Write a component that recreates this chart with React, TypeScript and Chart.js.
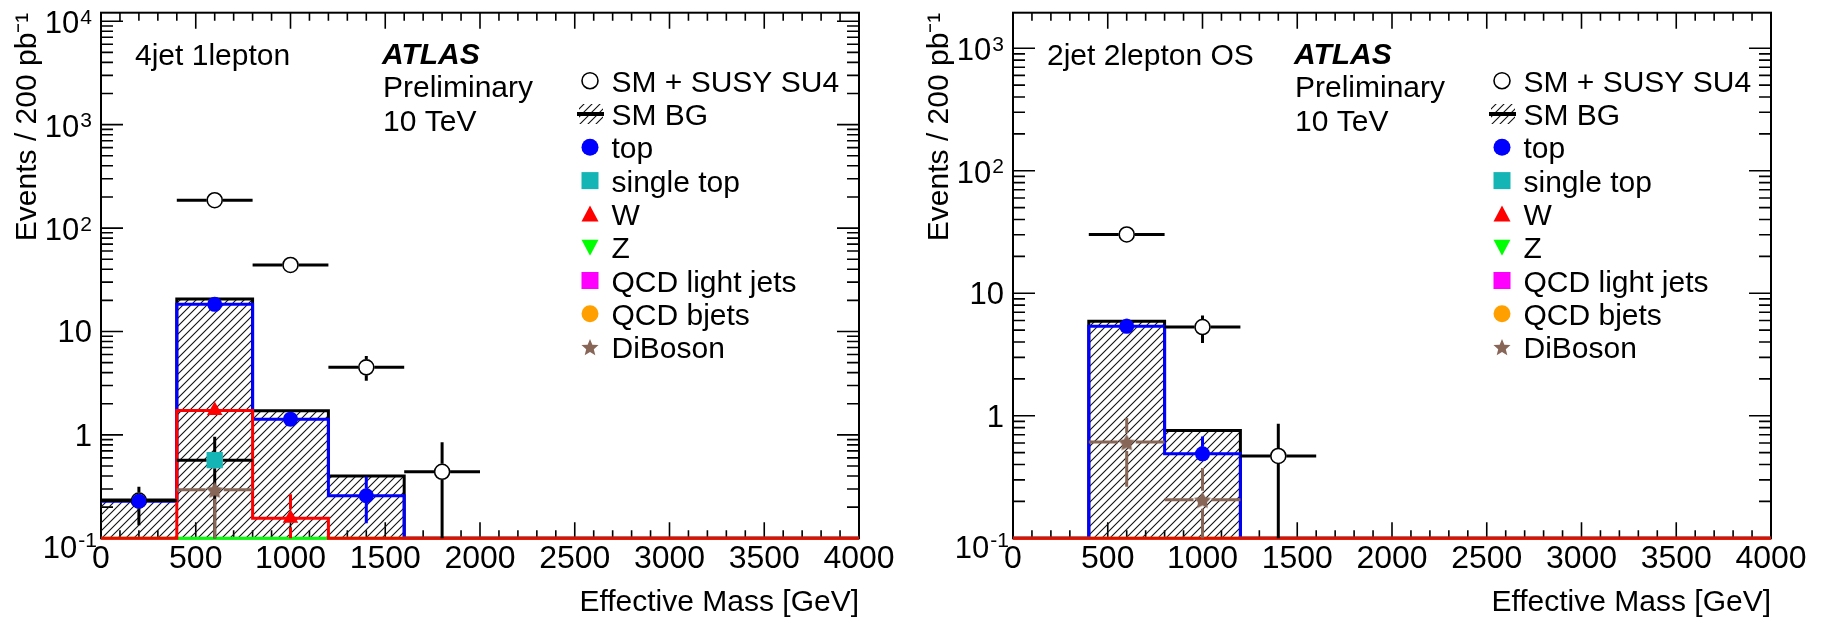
import React, { useEffect, useRef } from 'react';
import { Chart, registerables } from 'chart.js';

Chart.register(...registerables);

const FONT = '"Liberation Sans", Arial, Helvetica, sans-serif';

// ---------- shared axes ----------
const binEdges = [0, 400, 800, 1200, 1600, 2000, 2400, 2800, 3200, 3600, 4000];
const binHalfWidth = 200;
const xTickValues = [0, 500, 1000, 1500, 2000, 2500, 3000, 3500, 4000];
const xTickLabels = ['0', '500', '1000', '1500', '2000', '2500', '3000', '3500', '4000'];
const xTitle = 'Effective Mass [GeV]';
const yTitle = 'Events / 200 pb⁻¹';

const yTicks4j = [0.1, 1, 10, 100, 1000, 10000];
const yTickBase4j = ['10', '1', '10', '10', '10', '10'];
const yTickExp4j = ['-1', '', '', '2', '3', '4'];
const yTicks2j = [0.1, 1, 10, 100, 1000];
const yTickBase2j = ['10', '1', '10', '10', '10'];
const yTickExp2j = ['-1', '', '', '2', '3'];

// ---------- 4jet 1lepton ----------
const smBg4j = [0.235, 20.6, 1.71, 0.4, 0, 0, 0, 0, 0, 0];
const top4j = [0.228, 18.3, 1.42, 0.258, 0, 0, 0, 0, 0, 0];
const w4j = [0, 1.72, 0.156, 0, 0, 0, 0, 0, 0, 0];
const z4j = [0, 0, 0, 0, 0, 0, 0, 0, 0, 0];
const susyX4j = [200, 600, 1000, 1400, 1800];
const susyY4j = [0.232, 186, 44, 4.5, 0.44];
const susyLo4j = [0.134, 176, 41.5, 3.34, 0];
const susyHi4j = [0.316, 196, 46.5, 5.8, 0.85];
const topX4j = [200, 600, 1000, 1400];
const topY4j = [0.228, 18.3, 1.42, 0.258];
const topLo4j = [0.205, 17.3, 1.33, 0.14];
const topHi4j = [0.255, 19.8, 1.52, 0.394];
const singleTopX4j = [600];
const singleTopY4j = [0.57];
const singleTopLo4j = [0];
const singleTopHi4j = [0.96];
const wX4j = [600, 1000];
const wY4j = [1.72, 0.156];
const wLo4j = [1.42, 0];
const wHi4j = [2.12, 0.266];
const diBosonX4j = [600];
const diBosonY4j = [0.295];
const diBosonLo4j = [0];
const diBosonHi4j = [0.33];

// ---------- 2jet 2lepton OS ----------
const smBg2j = [0, 5.9, 0.76, 0, 0, 0, 0, 0, 0, 0];
const top2j = [0, 5.37, 0.489, 0, 0, 0, 0, 0, 0, 0];
const w2j = [0, 0, 0, 0, 0, 0, 0, 0, 0, 0];
const z2j = [0, 0, 0, 0, 0, 0, 0, 0, 0, 0];
const susyX2j = [600, 1000, 1400];
const susyY2j = [30.2, 5.3, 0.47];
const susyLo2j = [28.5, 3.93, 0];
const susyHi2j = [32, 6.57, 0.86];
const topX2j = [600, 1000];
const topY2j = [5.37, 0.489];
const topLo2j = [5.0, 0.44];
const topHi2j = [6.2, 0.678];
const diBosonX2j = [600, 1000];
const diBosonY2j = [0.61, 0.206];
const diBosonLo2j = [0.264, 0];
const diBosonHi2j = [0.958, 0.375];

// ---------- legend ----------
const legendLabels = ['SM + SUSY SU4', 'SM BG', 'top', 'single top', 'W', 'Z', 'QCD light jets', 'QCD bjets', 'DiBoson'];
const legendMarkers = ['openCircle', 'hatch', 'circle', 'square', 'triUp', 'triDown', 'square', 'circle', 'star'];
const legendColors = ['#000000', '#000000', '#0000ff', '#15b5b5', '#ff0000', '#00ff00', '#ff00ff', '#ffa000', '#876657'];

const C_TOP = '#0000ff';
const C_STOP = '#15b5b5';
const C_W = '#ff0000';
const C_Z = '#00ff00';
const C_DIB = '#876657';

function makeHatch(): CanvasPattern | string {
  const c = document.createElement('canvas');
  c.width = 8;
  c.height = 8;
  const g = c.getContext('2d');
  if (!g) return 'rgba(0,0,0,0.2)';
  g.strokeStyle = '#111';
  g.lineWidth = 1.1;
  g.beginPath();
  g.moveTo(0, 8); g.lineTo(8, 0);
  g.moveTo(-1, 1); g.lineTo(1, -1);
  g.moveTo(7, 9); g.lineTo(9, 7);
  g.stroke();
  const p = g.createPattern(c, 'repeat');
  return p || 'rgba(0,0,0,0.2)';
}

function starPath(ctx: CanvasRenderingContext2D, x: number, y: number, ro: number, ri: number) {
  ctx.beginPath();
  for (let k = 0; k < 10; k++) {
    const r = k % 2 === 0 ? ro : ri;
    const a = -Math.PI / 2 + (k * Math.PI) / 5;
    const px = x + r * Math.cos(a);
    const py = y + r * Math.sin(a);
    if (k === 0) ctx.moveTo(px, py); else ctx.lineTo(px, py);
  }
  ctx.closePath();
}

function makeStar(color: string, size: number): HTMLCanvasElement {
  const c = document.createElement('canvas');
  c.width = size;
  c.height = size;
  const g = c.getContext('2d');
  if (g) {
    g.fillStyle = color;
    starPath(g, size / 2, size / 2 + 1, size / 2 - 0.5, size / 4.0);
    g.fill();
  }
  return c;
}

function drawMarker(ctx: CanvasRenderingContext2D, kind: string, x: number, y: number, color: string, hatch: any) {
  ctx.save();
  ctx.fillStyle = color;
  ctx.strokeStyle = color;
  if (kind === 'openCircle') {
    ctx.beginPath();
    ctx.arc(x, y, 8, 0, Math.PI * 2);
    ctx.fillStyle = '#fff';
    ctx.fill();
    ctx.lineWidth = 1.6;
    ctx.strokeStyle = '#000';
    ctx.stroke();
  } else if (kind === 'circle') {
    ctx.beginPath();
    ctx.arc(x, y, 8.5, 0, Math.PI * 2);
    ctx.fill();
  } else if (kind === 'square') {
    ctx.fillRect(x - 8.5, y - 8.5, 17, 17);
  } else if (kind === 'triUp') {
    ctx.beginPath();
    ctx.moveTo(x, y - 8.5); ctx.lineTo(x + 8.5, y + 7.5); ctx.lineTo(x - 8.5, y + 7.5);
    ctx.closePath();
    ctx.fill();
  } else if (kind === 'triDown') {
    ctx.beginPath();
    ctx.moveTo(x, y + 8.5); ctx.lineTo(x + 8.5, y - 7.5); ctx.lineTo(x - 8.5, y - 7.5);
    ctx.closePath();
    ctx.fill();
  } else if (kind === 'star') {
    starPath(ctx, x, y + 0.8, 9, 4);
    ctx.fill();
  } else if (kind === 'hatch') {
    ctx.fillStyle = hatch;
    ctx.fillRect(x - 11, y - 10, 24, 20);
    ctx.fillStyle = '#000';
    ctx.fillRect(x - 13, y - 2, 27, 4);
  }
  ctx.restore();
}

// ---------- plugins ----------
const framePlugin = {
  id: 'rootFrame',
  beforeDatasetsDraw(chart: any) {
    const { ctx, chartArea: a, scales } = chart;
    const xs = scales.x;
    const ys = scales.y;
    ctx.save();
    ctx.strokeStyle = '#000';
    ctx.lineWidth = 2;
    ctx.strokeRect(a.left, a.top, a.right - a.left, a.bottom - a.top);
    ctx.lineWidth = 1.6;
    ctx.beginPath();
    for (let v = 0; v <= 4000; v += 100) {
      const px = xs.getPixelForValue(v);
      const len = v % 500 === 0 ? 16 : 8;
      ctx.moveTo(px, a.bottom); ctx.lineTo(px, a.bottom - len);
      ctx.moveTo(px, a.top); ctx.lineTo(px, a.top + len);
    }
    for (let d = -1; d <= 4; d++) {
      for (let k = 1; k <= 9; k++) {
        const v = k * Math.pow(10, d);
        if (v < ys.min * 0.999 || v > ys.max) continue;
        const py = ys.getPixelForValue(v);
        const len = k === 1 ? 22 : 12;
        ctx.moveTo(a.left, py); ctx.lineTo(a.left + len, py);
        ctx.moveTo(a.right, py); ctx.lineTo(a.right - len, py);
      }
    }
    ctx.stroke();
    ctx.restore();
  },
};

// y tick labels with real superscripts, placed at the log scale's tick pixels
const yLabelPlugin = {
  id: 'yLabels',
  afterDraw(chart: any) {
    const o = chart.options.plugins.yLabels;
    if (!o) return;
    const { ctx, chartArea: a, scales } = chart;
    const ys = scales.y;
    ctx.save();
    ctx.fillStyle = '#000';
    ctx.textAlign = 'left';
    ctx.textBaseline = 'alphabetic';
    ys.ticks.forEach((t: any) => {
      const i = o.values.findIndex((v: number) => Math.abs(v - t.value) / v < 1e-6);
      if (i < 0) return;
      const base = o.base[i];
      const exp = o.exp[i];
      const py = ys.getPixelForValue(t.value);
      const low = t.value < 1;
      const right = a.left - (low ? 4 : 9);
      ctx.font = `31px ${FONT}`;
      const wb = ctx.measureText(base).width;
      let we = 0;
      if (exp) {
        ctx.font = `21px ${FONT}`;
        we = ctx.measureText(exp).width + 1;
      }
      const x0 = right - wb - we;
      const baseline = exp ? (low ? py + 20 : py + 12) : py + 11;
      ctx.font = `31px ${FONT}`;
      ctx.fillText(base, x0, baseline);
      if (exp) {
        ctx.font = `21px ${FONT}`;
        ctx.fillText(exp, x0 + wb + 1, baseline - (low ? 11 : 9.5));
      }
    });
    ctx.restore();
  },
};

const errorBarPlugin = {
  id: 'errorBars',
  beforeDatasetDraw(chart: any, args: any) {
    const ds = chart.data.datasets[args.index];
    const eb = ds && ds.errorBars;
    if (!eb) return;
    const { ctx, chartArea: a, scales } = chart;
    const xs = scales.x;
    const ys = scales.y;
    ctx.save();
    ctx.beginPath();
    ctx.rect(a.left, a.top, a.right - a.left, a.bottom - a.top);
    ctx.clip();
    ctx.strokeStyle = eb.color;
    ctx.lineWidth = eb.width;
    const seg = (x1: number, y1: number, x2: number, y2: number) => {
      ctx.beginPath(); ctx.moveTo(x1, y1); ctx.lineTo(x2, y2); ctx.stroke();
    };
    eb.x.forEach((xv: number, i: number) => {
      const px = xs.getPixelForValue(xv);
      const py = ys.getPixelForValue(Math.max(eb.y[i], ys.min));
      const gap = eb.gap;
      if (eb.xErr) {
        const xl = xs.getPixelForValue(xv - eb.xErr);
        const xr = xs.getPixelForValue(xv + eb.xErr);
        if (px - gap > xl) seg(xl, py, px - gap, py);
        if (xr > px + gap) seg(px + gap, py, xr, py);
      }
      const pHi = ys.getPixelForValue(eb.hi[i]);
      const pLo = eb.lo[i] > 0 ? ys.getPixelForValue(eb.lo[i]) : a.bottom + 4;
      if (pHi < py - gap) seg(px, py - gap, px, pHi);
      if (pLo > py + gap) seg(px, py + gap, px, pLo);
    });
    ctx.restore();
  },
};

const textPlugin = {
  id: 'rootText',
  afterDraw(chart: any) {
    const o = chart.options.plugins.rootText;
    if (!o) return;
    const ctx = chart.ctx;
    ctx.save();
    ctx.fillStyle = '#000';
    ctx.textBaseline = 'alphabetic';
    ctx.textAlign = 'left';
    ctx.font = `30px ${FONT}`;
    ctx.fillText(o.region, o.regionX, 64.5);
    ctx.font = `italic bold 30px ${FONT}`;
    ctx.fillText('ATLAS', o.atlasX, 64);
    ctx.font = `30px ${FONT}`;
    ctx.fillText('Preliminary', o.atlasX + 1, 97.3);
    ctx.fillText('10 TeV', o.atlasX + 1, 130.7);
    legendLabels.forEach((lab, i) => {
      const base = 91.7 + i * 33.3;
      drawMarker(ctx, legendMarkers[i], o.legendMarkerX, base - 11, legendColors[i], o.hatch);
      ctx.fillStyle = '#000';
      ctx.font = `30px ${FONT}`;
      ctx.fillText(lab, o.legendTextX, base);
    });
    ctx.restore();
  },
};

// ---------- builders ----------
function histPoints(values: number[], floor: number) {
  const pts: { x: number; y: number }[] = [];
  values.forEach((v, i) => {
    const y = Math.max(v, floor);
    pts.push({ x: binEdges[i], y }, { x: binEdges[i + 1], y });
  });
  return pts;
}

function pointsOf(xs: number[], ys: number[], floor: number) {
  return xs.map((x, i) => ({ x, y: Math.max(ys[i], floor) }));
}

type Series = { x: number[]; y: number[]; lo: number[]; hi: number[] };

type PanelSpec = {
  yMin: number;
  yMax: number;
  yTicks: number[];
  yTickBase: string[];
  yTickExp: string[];
  padRight: number;
  smBg: number[];
  top: number[];
  w: number[];
  z: number[];
  susy: Series;
  topPts: Series;
  singleTop?: Series;
  wPts?: Series;
  diBoson: Series;
  region: string;
};

function buildConfig(spec: PanelSpec): any {
  const hatch = makeHatch();
  const star = makeStar(C_DIB, 19);
  const f = spec.yMin;
  const histDs = (label: string, values: number[], color: string, order: number, fill: any) => ({
    label,
    data: histPoints(values, f),
    borderColor: color,
    borderWidth: 3,
    pointRadius: 0,
    tension: 0,
    fill: fill ? 'start' : false,
    backgroundColor: fill || 'transparent',
    order,
    clip: 6,
  });
  const pointDs = (label: string, s: Series, opts: any, order: number, eb: any) => ({
    label,
    data: pointsOf(s.x, s.y, f),
    showLine: false,
    order,
    clip: 10,
    errorBars: { x: s.x, y: s.y, lo: s.lo, hi: s.hi, ...eb },
    ...opts,
  });
  const datasets: any[] = [
    histDs('SM BG', spec.smBg, '#000', 100, hatch),
    histDs('top hist', spec.top, C_TOP, 90, null),
    histDs('Z hist', spec.z, C_Z, 85, null),
    histDs('W hist', spec.w, C_W, 80, null),
    pointDs('SM + SUSY SU4', spec.susy, {
      pointStyle: 'circle', pointRadius: 7.5, pointBackgroundColor: '#fff', pointBorderColor: '#000', pointBorderWidth: 1.6,
    }, 60, { color: '#000', width: 3, gap: 8, xErr: binHalfWidth }),
    pointDs('top', spec.topPts, {
      pointStyle: 'circle', pointRadius: 7.5, pointBackgroundColor: C_TOP, pointBorderColor: C_TOP, pointBorderWidth: 0,
    }, 50, { color: C_TOP, width: 3, gap: 7, xErr: 0 }),
  ];
  if (spec.singleTop) {
    datasets.push(pointDs('single top', spec.singleTop, {
      pointStyle: 'rect', pointRadius: 11.5, pointBackgroundColor: C_STOP, pointBorderColor: C_STOP, pointBorderWidth: 0,
    }, 45, { color: '#000', width: 3, gap: 8, xErr: binHalfWidth }));
  }
  if (spec.wPts) {
    datasets.push(pointDs('W', spec.wPts, {
      pointStyle: 'triangle', pointRadius: 9, pointBackgroundColor: C_W, pointBorderColor: C_W, pointBorderWidth: 0,
    }, 40, { color: C_W, width: 3, gap: 9, xErr: 0 }));
  }
  datasets.push(pointDs('DiBoson', spec.diBoson, {
    pointStyle: star, pointRadius: 9, pointBackgroundColor: C_DIB, pointBorderColor: C_DIB,
  }, 35, { color: C_DIB, width: 3, gap: 9, xErr: binHalfWidth }));

  return {
    type: 'line',
    data: { datasets },
    options: {
      responsive: false,
      animation: false,
      events: [],
      layout: { padding: { left: 0, top: 12.7, right: spec.padRight, bottom: 0 } },
      plugins: {
        legend: { display: false },
        tooltip: { enabled: false },
        title: { display: false },
        yLabels: { values: spec.yTicks, base: spec.yTickBase, exp: spec.yTickExp },
        rootText: {
          region: spec.region,
          regionX: 135,
          atlasX: 382,
          legendMarkerX: 590,
          legendTextX: 611.5,
          hatch,
        },
      },
      scales: {
        x: {
          type: 'linear',
          min: 0,
          max: 4000,
          grid: { display: false, drawTicks: false },
          border: { display: false },
          afterBuildTicks: (s: any) => { s.ticks = xTickValues.map((v) => ({ value: v })); },
          afterFit: (s: any) => { s.height = 82.7; s.paddingLeft = 0; s.paddingRight = 0; },
          ticks: {
            autoSkip: false,
            maxRotation: 0,
            padding: 1.5,
            color: '#000',
            font: { family: FONT, size: 32 },
            callback: (v: number) => {
              const i = xTickValues.indexOf(v);
              return i >= 0 ? xTickLabels[i] : '';
            },
          },
          title: {
            display: true,
            text: xTitle,
            align: 'end',
            color: '#000',
            font: { family: FONT, size: 30 },
            padding: { top: 0, bottom: 0.5 },
          },
        },
        y: {
          type: 'logarithmic',
          min: spec.yMin,
          max: spec.yMax,
          grid: { display: false, drawTicks: false },
          border: { display: false },
          afterBuildTicks: (s: any) => { s.ticks = spec.yTicks.map((v) => ({ value: v })); },
          afterFit: (s: any) => { s.width = 101; s.paddingTop = 0; s.paddingBottom = 0; },
          ticks: {
            display: false,
            autoSkip: false,
          },
          title: {
            display: true,
            text: yTitle,
            align: 'end',
            color: '#000',
            font: { family: FONT, size: 30 },
            padding: { top: 10, bottom: 0 },
          },
        },
      },
    },
    plugins: [framePlugin, errorBarPlugin, yLabelPlugin, textPlugin],
  };
}

const spec4j: PanelSpec = {
  yMin: 0.1,
  yMax: 12100,
  yTicks: yTicks4j,
  yTickBase: yTickBase4j,
  yTickExp: yTickExp4j,
  padRight: 53,
  smBg: smBg4j,
  top: top4j,
  w: w4j,
  z: z4j,
  susy: { x: susyX4j, y: susyY4j, lo: susyLo4j, hi: susyHi4j },
  topPts: { x: topX4j, y: topY4j, lo: topLo4j, hi: topHi4j },
  singleTop: { x: singleTopX4j, y: singleTopY4j, lo: singleTopLo4j, hi: singleTopHi4j },
  wPts: { x: wX4j, y: wY4j, lo: wLo4j, hi: wHi4j },
  diBoson: { x: diBosonX4j, y: diBosonY4j, lo: diBosonLo4j, hi: diBosonHi4j },
  region: '4jet 1lepton',
};

const spec2j: PanelSpec = {
  yMin: 0.1,
  yMax: 1950,
  yTicks: yTicks2j,
  yTickBase: yTickBase2j,
  yTickExp: yTickExp2j,
  padRight: 50,
  smBg: smBg2j,
  top: top2j,
  w: w2j,
  z: z2j,
  susy: { x: susyX2j, y: susyY2j, lo: susyLo2j, hi: susyHi2j },
  topPts: { x: topX2j, y: topY2j, lo: topLo2j, hi: topHi2j },
  diBoson: { x: diBosonX2j, y: diBosonY2j, lo: diBosonLo2j, hi: diBosonHi2j },
  region: '2jet 2lepton OS',
};

function Panel({ spec, left, width }: { spec: PanelSpec; left: number; width: number }) {
  const ref = useRef<HTMLCanvasElement>(null);
  useEffect(() => {
    if (!ref.current) return;
    const chart = new Chart(ref.current, buildConfig(spec));
    return () => chart.destroy();
  }, [spec]);
  return (
    <canvas
      ref={ref}
      width={width}
      height={621}
      style={{ position: 'absolute', left, top: 0, width, height: 621 }}
    />
  );
}

export default function App() {
  return (
    <div style={{ position: 'absolute', left: 0, top: 0, width: 1821, height: 621, background: '#fff', overflow: 'hidden' }}>
      <Panel spec={spec4j} left={0} width={912} />
      <Panel spec={spec2j} left={912} width={909} />
    </div>
  );
}
